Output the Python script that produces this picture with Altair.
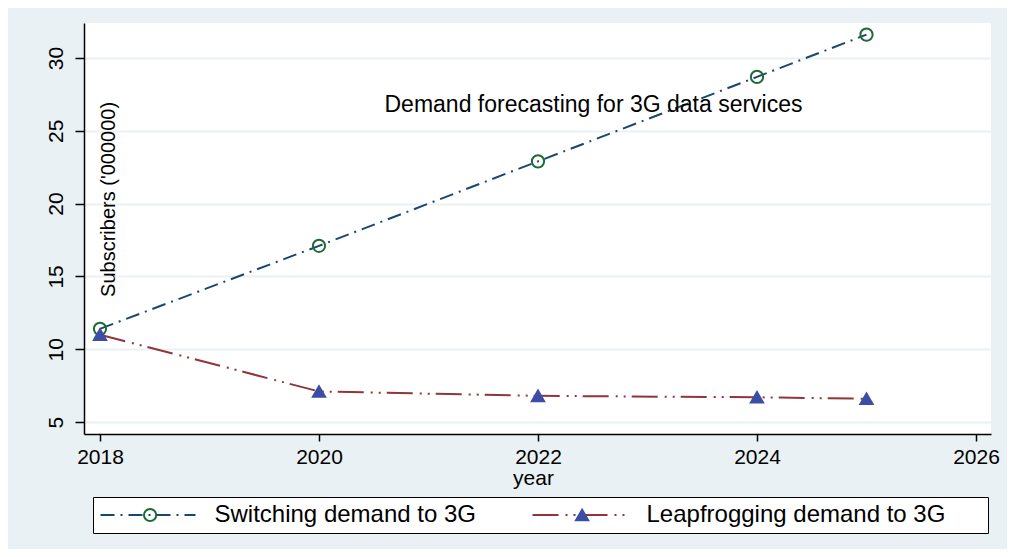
import altair as alt
import pandas as pd

# ---- data ----
years = [2018, 2020, 2022, 2024, 2025]
switching = [11.4, 17.1, 22.9, 28.7, 31.6]
leapfrogging = [11.0, 7.1, 6.8, 6.7, 6.6]
series_names = ["Switching demand to 3G", "Leapfrogging demand to 3G"]
marker_codes = ["sw", "lf"]
x_ticks = [2018, 2020, 2022, 2024, 2026]
y_ticks = [5, 10, 15, 20, 25, 30]
x_domain = [2017.854, 2026.137]
y_domain = [4.18, 32.4]

note_text = ["Demand forecasting for 3G data services"]
note_x = [2022.507]
note_y = [26.75]
ylab_text = ["Subscribers ('000000)"]
ylab_x = [2018.078]
ylab_y = [20.29]

# ---- styling ----
BG = "#E9F1F4"
NAVY = "#1a476f"
MAROON = "#90353b"
GREEN = "#1d6b35"
BLUE = "#3b4ea3"
FONT = "Liberation Sans"
PADCHARS = "\u2800" * 2

rows = []
for name, code, vals in zip(series_names, marker_codes, [switching, leapfrogging]):
    for yr, v in zip(years, vals):
        rows.append({"year": yr, "value": v, "series": name, "marker": code})
df = pd.DataFrame(rows)

x_enc = alt.X(
    "year:Q",
    scale=alt.Scale(domain=x_domain, nice=False, zero=False),
    axis=alt.Axis(
        values=x_ticks, format="d", title="year", grid=False,
        labelFont=FONT, labelFontSize=21, labelColor="black", labelPadding=5,
        labelFlush=False, tickSize=7, tickColor="black", tickWidth=1.5,
        domainColor="black", domainWidth=1.5,
        titleFont=FONT, titleFontSize=21, titleFontWeight="normal", titleColor="black",
        titleBaseline="alphabetic", titleX=449, titleY=50,
    ),
)
y_enc = alt.Y(
    "value:Q",
    scale=alt.Scale(domain=y_domain, nice=False, zero=False),
    axis=alt.Axis(
        values=y_ticks, title=None, grid=True, gridColor=BG, gridWidth=2,
        labelFont=FONT, labelFontSize=21, labelColor="black", labelAngle=270,
        labelAlign="center", labelBaseline="bottom", labelPadding=9,
        labelFlush=False, labelOverlap=False, tickSize=9, tickColor="black", tickWidth=1.5,
        domainColor="black", domainWidth=1.5,
    ),
)

line_legend = alt.Legend(
    title=None, orient="none", legendX=9, legendY=474, direction="horizontal",
    symbolType="stroke", symbolSize=9025, symbolStrokeWidth=2, clipHeight=24,
    symbolOffset=0.5, labelOffset=18, columnPadding=55, padding=6,
    labelFont=FONT, labelFontSize=24, labelColor="black", labelLimit=600,
    labelExpr="datum.value == 'Leapfrogging demand to 3G' ? datum.label + '" + PADCHARS + "' : datum.label",
    fillColor="white", strokeColor="black",
)
pt_legend = alt.Legend(
    title=None, orient="none", legendX=54.1, legendY=480, direction="horizontal",
    symbolSize=150, symbolStrokeWidth=2, clipHeight=24,
    labelOffset=21, columnPadding=387, padding=0,
    labelFont=FONT, labelFontSize=24, labelColor="transparent", labelLimit=600,
    labelExpr="''",
)

base = alt.Chart(df)

lines = base.mark_line(strokeWidth=2).encode(
    x=x_enc,
    y=y_enc,
    color=alt.Color("series:N", sort=series_names,
                    scale=alt.Scale(domain=series_names, range=[NAVY, MAROON]),
                    legend=line_legend),
    strokeDash=alt.StrokeDash("series:N", sort=series_names,
                              scale=alt.Scale(domain=series_names,
                                              range=[[14, 6, 2, 6], [26, 7, 2, 6, 2, 6]]),
                              legend=line_legend),
)

points = base.mark_point(filled=True, size=150, strokeWidth=2, opacity=1).encode(
    x=x_enc,
    y=y_enc,
    shape=alt.Shape("marker:N", sort=marker_codes,
                    scale=alt.Scale(domain=marker_codes, range=["circle", "triangle-up"]),
                    legend=pt_legend),
    fill=alt.Fill("marker:N", sort=marker_codes,
                  scale=alt.Scale(domain=marker_codes, range=["transparent", BLUE]),
                  legend=pt_legend),
    stroke=alt.Stroke("marker:N", sort=marker_codes,
                      scale=alt.Scale(domain=marker_codes, range=[GREEN, BLUE]),
                      legend=pt_legend),
)

note = alt.Chart(pd.DataFrame({"year": note_x, "value": note_y, "t": note_text})).mark_text(
    font=FONT, fontSize=23, color="black", align="center", baseline="middle"
).encode(x=x_enc, y=y_enc, text="t:N")

ylab = alt.Chart(pd.DataFrame({"year": ylab_x, "value": ylab_y, "t": ylab_text})).mark_text(
    font=FONT, fontSize=20, color="black", align="center", baseline="middle", angle=270
).encode(x=x_enc, y=y_enc, text="t:N")

chart = alt.layer(lines, points, note, ylab).properties(
    width=907, height=411,
    background=BG,
    padding={"left": 76, "top": 15, "right": 16, "bottom": 115},
    autosize=alt.AutoSizeParams(type="none"),
).configure_view(fill="white", strokeWidth=0)

chart.save("out.html", embed_options={"renderer": "svg", "actions": False})
